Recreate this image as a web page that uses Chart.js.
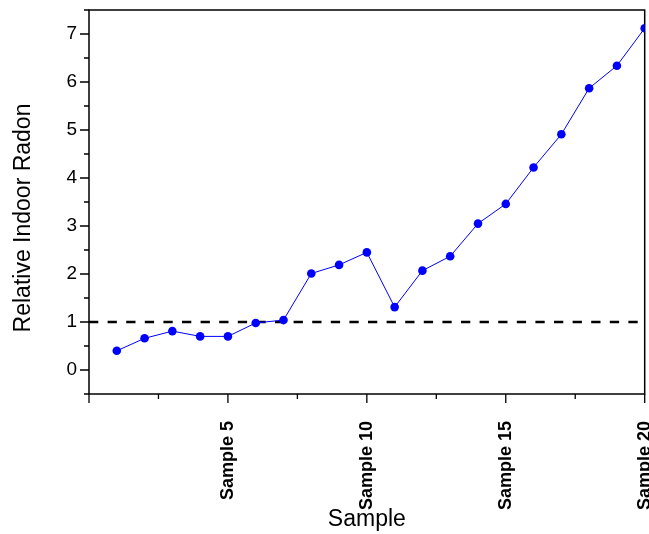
<!DOCTYPE html>
<html>
<head>
<meta charset="utf-8">
<script src="https://cdn.jsdelivr.net/npm/chart.js@4"></script>
<style>
  html, body { margin: 0; padding: 0; background: #fff; }
  #wrap { width: 649px; height: 534px; }
</style>
</head>
<body>
<div id="wrap"><canvas id="radonChart"></canvas></div>
<script>
// sample index and measured values
const sampleNumbers = [1, 2, 3, 4, 5, 6, 7, 8, 9, 10, 11, 12, 13, 14, 15, 16, 17, 18, 19, 20];
const radonValues = [0.40, 0.66, 0.81, 0.70, 0.70, 0.98, 1.04, 2.01, 2.19, 2.45,
                     1.31, 2.07, 2.37, 3.05, 3.46, 4.22, 4.91, 5.87, 6.34, 7.12];
const referenceLevel = 1;
const xRange = [0, 20];
const yRange = [-0.5, 7.5];
const labelPrefix = 'Sample ';

const FONT = "'Liberation Sans', Arial, sans-serif";

// frame round the plot + major/minor tick marks
const frameAndTicks = {
  id: 'frameAndTicks',
  beforeDatasetsDraw(chart) {
    const { ctx, chartArea: a, scales: { x, y } } = chart;
    ctx.save();
    ctx.strokeStyle = '#000';
    ctx.lineWidth = 1.5;
    ctx.strokeRect(a.left, a.top, a.right - a.left, a.bottom - a.top);

    ctx.lineWidth = 1.3;
    ctx.beginPath();
    x.ticks.forEach(t => {
      const px = x.getPixelForValue(t.value);
      const len = t.value % 5 === 0 ? 9 : 5;
      ctx.moveTo(px, a.bottom);
      ctx.lineTo(px, a.bottom + len);
    });
    y.ticks.forEach(t => {
      const py = y.getPixelForValue(t.value);
      const len = Number.isInteger(t.value) ? 9 : 5;
      ctx.moveTo(a.left, py);
      ctx.lineTo(a.left - len, py);
    });
    ctx.stroke();
    ctx.restore();
  }
};

new Chart(document.getElementById('radonChart'), {
  type: 'line',
  data: {
    datasets: [
      {
        label: 'Relative Indoor Radon',
        data: sampleNumbers.map((n, i) => ({ x: n, y: radonValues[i] })),
        borderColor: '#0000ff',
        backgroundColor: '#0000ff',
        borderWidth: 1,
        pointRadius: 4.3,
        pointBorderWidth: 0,
        tension: 0,
        order: 0
      },
      {
        label: 'Reference',
        data: xRange.map(v => ({ x: v, y: referenceLevel })),
        borderColor: '#000',
        borderWidth: 2.5,
        borderDash: [9.3, 9.3],
        pointRadius: 0,
        order: 1
      }
    ]
  },
  options: {
    responsive: true,
    maintainAspectRatio: false,
    animation: false,
    layout: { padding: { left: 0, right: 3, top: 10, bottom: 0 } },
    plugins: {
      legend: { display: false },
      tooltip: { enabled: false }
    },
    scales: {
      x: {
        type: 'linear',
        min: xRange[0],
        max: xRange[1],
        grid: { display: false, drawTicks: false },
        border: { display: false },
        ticks: {
          stepSize: 2.5,
          autoSkip: false,
          minRotation: 90,
          maxRotation: 90,
          padding: 27,
          color: '#000',
          font: { family: FONT, size: 18, weight: 'bold' },
          callback: v => (v > 0 && v % 5 === 0) ? labelPrefix + v : ''
        },
        title: {
          display: true,
          text: 'Sample',
          color: '#000',
          font: { family: FONT, size: 23 },
          padding: { top: 0, bottom: 1 }
        },
        afterFit: s => { s.height = 140; s.paddingLeft = 0; s.paddingRight = 0; }
      },
      y: {
        min: yRange[0],
        max: yRange[1],
        grid: { display: false, drawTicks: false },
        border: { display: false },
        ticks: {
          stepSize: 0.5,
          autoSkip: false,
          padding: 12,
          color: '#000',
          font: { family: FONT, size: 19 },
          callback: v => Number.isInteger(v) ? v : ''
        },
        title: {
          display: true,
          text: 'Relative Indoor Radon     ',
          color: '#000',
          font: { family: FONT, size: 23 },
          padding: { top: 10, bottom: 0 }
        },
        afterFit: s => { s.width = 89; s.paddingTop = 0; s.paddingBottom = 0; }
      }
    }
  },
  plugins: [frameAndTicks]
});
</script>
</body>
</html>
